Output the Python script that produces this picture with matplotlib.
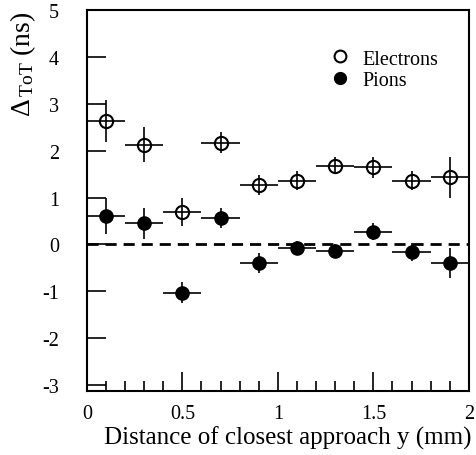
import numpy as np
import matplotlib; matplotlib.use("Agg"); import matplotlib.pyplot as plt
from matplotlib.ticker import MultipleLocator
from matplotlib.lines import Line2D

# bin centres (mm) and half-width
y_pos = [0.1, 0.3, 0.5, 0.7, 0.9, 1.1, 1.3, 1.5, 1.7, 1.9]
half_bin = [0.1] * 10

# electrons
ele = [2.64, 2.13, 0.70, 2.17, 1.26, 1.36, 1.68, 1.64, 1.36, 1.43]
ele_err = [0.45, 0.38, 0.30, 0.22, 0.21, 0.21, 0.18, 0.22, 0.21, 0.43]
# pions
pio = [0.60, 0.45, -1.03, 0.57, -0.40, -0.07, -0.15, 0.27, -0.16, -0.39]
pio_err = [0.38, 0.33, 0.23, 0.21, 0.22, 0.15, 0.15, 0.18, 0.20, 0.32]

plt.rcParams["font.family"] = ["Liberation Serif", "DejaVu Serif"]
plt.rcParams["mathtext.fontset"] = "custom"
plt.rcParams["mathtext.rm"] = "Liberation Serif"
plt.rcParams["mathtext.it"] = "Liberation Serif"

fig = plt.figure(figsize=(4.77, 4.56), dpi=100)
ax = fig.add_axes([0.182, 0.140, 0.801, 0.836])

ax.axhline(0, color="black", lw=2, ls=(0, (4, 2.5)), zorder=1)
ax.errorbar(y_pos, ele, xerr=half_bin, yerr=ele_err, fmt="o", ms=9.5, mfc="none",
            mec="black", mew=1.5, ecolor="black", elinewidth=1.2, capsize=0, zorder=3)
ax.errorbar(y_pos, pio, xerr=half_bin, yerr=pio_err, fmt="o", ms=9.5, mfc="black",
            mec="black", ecolor="black", elinewidth=1.2, capsize=0, zorder=3)

ax.set_xlim(0, 2)
ax.set_ylim(-3.13, 5)
ax.xaxis.set_minor_locator(MultipleLocator(0.1))
ax.set_xticks([0, 0.5, 1, 1.5, 2], ["0", "0.5", "1", "1.5", "2"])
ax.set_yticks(range(-3, 6), [str(v) for v in range(-3, 6)])
ax.tick_params(which="both", direction="in", top=False, right=False, width=1.2, labelsize=14.5)
ax.tick_params(axis="x", which="major", length=14, pad=9)
ax.tick_params(axis="x", which="minor", length=7)
ax.tick_params(axis="y", which="major", length=14, pad=20)
for s in ax.spines.values():
    s.set_linewidth(1.5)

ax.set_xlabel("Distance of closest approach y (mm)", fontsize=18)
ax.xaxis.set_label_coords(0.527, -0.09)
ax.set_ylabel(r"$\Delta_{\,\mathrm{ToT}}$ (ns)", fontsize=20)
ax.yaxis.set_label_coords(-0.128, 0.86)

handles = [Line2D([], [], ls="none", marker="o", ms=8.5, mfc="none", mec="black", mew=1.5),
           Line2D([], [], ls="none", marker="o", ms=8.5, mfc="black", mec="black")]
ax.legend(handles, ["Electrons", "Pions"], loc="upper left", bbox_to_anchor=(0.594, 0.944),
          frameon=False, fontsize=14.5, handlelength=0.8, handletextpad=0.7, labelspacing=0.1)

fig.savefig("out.png", dpi=100)
